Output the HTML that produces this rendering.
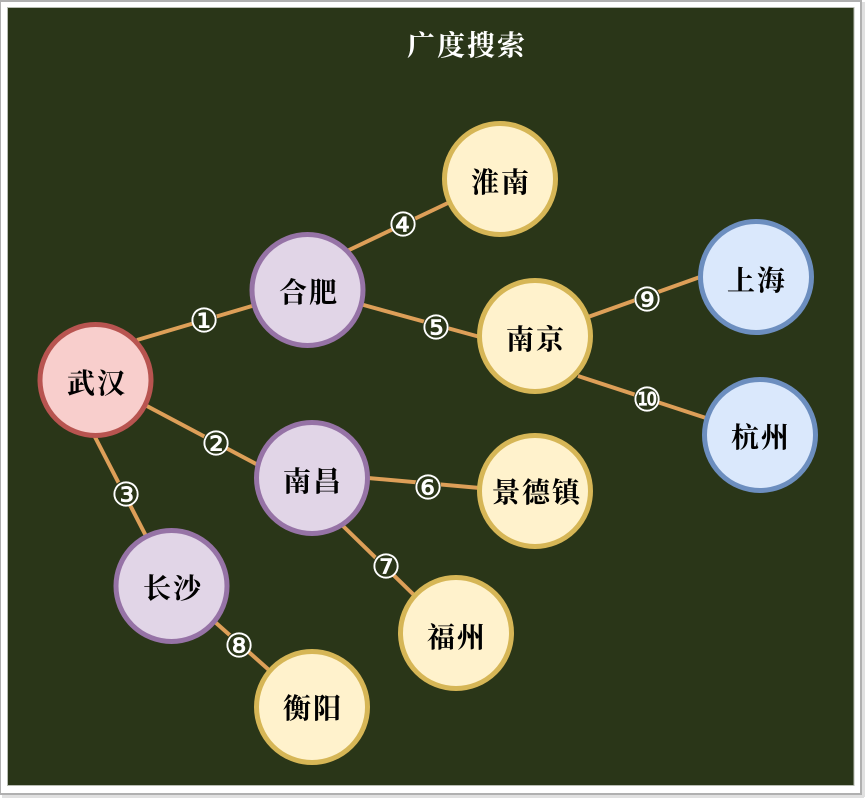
<!DOCTYPE html>
<html><head><meta charset="utf-8"><style>
html,body{margin:0;padding:0;background:#fff;width:866px;height:798px;overflow:hidden}
svg{display:block}
.n{font-family:"Liberation Serif","Noto Serif CJK SC",serif;font-size:28px;font-weight:700;fill:#000;text-anchor:middle;letter-spacing:2px}
.l{font-family:"DejaVu Sans",sans-serif;font-size:33px;fill:#fff;stroke:#fff;stroke-width:.5px;text-anchor:middle;font-weight:400}
</style></head><body>
<svg width="866" height="798" viewBox="0 0 866 798" xmlns="http://www.w3.org/2000/svg">
<rect width="866" height="798" fill="#fff"/>
<rect x="0" y="0" width="862" height="2" fill="#b0b0b0"/>
<rect x="0" y="0" width="1" height="795" fill="#b0b0b0"/>
<rect x="860" y="0" width="2" height="795" fill="#b0b0b0"/>
<rect x="0" y="793" width="862" height="2" fill="#b0b0b0"/>
<rect x="862" y="2" width="3" height="795" fill="#e0e0e0"/>
<rect x="2" y="795" width="862" height="3" fill="#e0e0e0"/>
<rect x="7.5" y="7.5" width="846.5" height="778" fill="#2a3618" stroke="#b9bdb4" stroke-width="1"/>
<text x="467" y="55" font-family="'Liberation Serif','Noto Serif CJK SC',serif" font-size="28" font-weight="700" fill="#fff" text-anchor="middle" letter-spacing="2">广度搜索</text>
<g stroke="#dd9f58" stroke-width="4">
<line x1="137" y1="340" x2="252" y2="306"/>
<line x1="145" y1="405" x2="258" y2="465"/>
<line x1="95" y1="437" x2="146" y2="536"/>
<line x1="347" y1="251" x2="450" y2="202"/>
<line x1="360" y1="304" x2="480" y2="337"/>
<line x1="368" y1="478" x2="480" y2="488"/>
<line x1="343" y1="526" x2="415" y2="596"/>
<line x1="215" y1="622" x2="269" y2="670"/>
<line x1="588" y1="317" x2="700" y2="277"/>
<line x1="578" y1="376" x2="706" y2="418"/>
</g>
<g fill="#f8cecc" stroke="#b85450" stroke-width="5"><circle cx="95.5" cy="380" r="55.5"/></g>
<g fill="#e1d5e7" stroke="#9673a6" stroke-width="5">
<circle cx="307.5" cy="290" r="55.5"/><circle cx="312" cy="478" r="55.5"/><circle cx="171.5" cy="586" r="55.5"/>
</g>
<g fill="#fff2cc" stroke="#d6b656" stroke-width="5">
<circle cx="500" cy="179" r="55.5"/><circle cx="535" cy="336" r="55.5"/><circle cx="535" cy="491" r="55.5"/><circle cx="456" cy="633" r="55.5"/><circle cx="312" cy="707" r="55.5"/>
</g>
<g fill="#dae8fc" stroke="#6c8ebf" stroke-width="5">
<circle cx="756" cy="277" r="55.5"/><circle cx="760" cy="435" r="55.5"/>
</g>
<text class="n" x="97" y="393">武汉</text>
<text class="n" x="309" y="302">合肥</text>
<text class="n" x="313" y="491">南昌</text>
<text class="n" x="173" y="598">长沙</text>
<text class="n" x="501" y="192">淮南</text>
<text class="n" x="536" y="349">南京</text>
<text class="n" x="537" y="502">景德镇</text>
<text class="n" x="457" y="647">福州</text>
<text class="n" x="313" y="718">衡阳</text>
<text class="n" x="757" y="290">上海</text>
<text class="n" x="761" y="447">杭州</text>
<g fill="#2a3618">
<circle cx="204" cy="319" r="13"/><circle cx="216" cy="442" r="13"/><circle cx="126" cy="493" r="13"/><circle cx="403" cy="223" r="13"/><circle cx="436" cy="326" r="13"/><circle cx="428" cy="486" r="13"/><circle cx="386" cy="565" r="13"/><circle cx="239" cy="644" r="13"/><circle cx="647" cy="298" r="13"/><circle cx="647" cy="398" r="13"/>
</g>
<text class="l" x="204" y="332">①</text>
<text class="l" x="216" y="455">②</text>
<text class="l" x="126" y="506">③</text>
<text class="l" x="403" y="236">④</text>
<text class="l" x="436" y="339">⑤</text>
<text class="l" x="428" y="499">⑥</text>
<text class="l" x="386" y="578">⑦</text>
<text class="l" x="239" y="657">⑧</text>
<text class="l" x="647" y="311">⑨</text>
<text class="l" x="647" y="411">⑩</text>
</svg>
</body></html>
